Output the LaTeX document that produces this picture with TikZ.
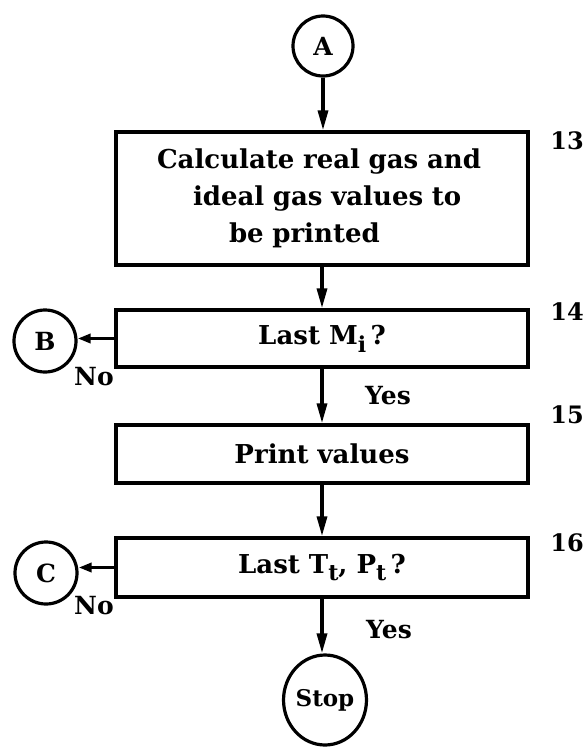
\documentclass[tikz,border=0pt]{standalone}
\usepackage{fontspec}
\setmainfont{DejaVu Serif}
\usetikzlibrary{arrows.meta,shapes.geometric}
\newcommand{\sbs}[1]{\raisebox{-8pt}{\fontsize{22pt}{22pt}\selectfont #1}}
\tikzset{
  box/.style={draw, line width=3.4pt, minimum width=412pt, inner sep=0pt,
              font=\bfseries\fontsize{26pt}{37pt}\selectfont},
  conn/.style={draw, circle, line width=3.2pt, inner sep=0pt, minimum size=60pt,
               font=\bfseries\fontsize{25pt}{25pt}\selectfont},
  flow/.style={line width=3.4pt, -{Triangle[length=20pt,width=10pt]}},
  flowsm/.style={line width=3.4pt, -{Triangle[length=13pt,width=9pt]}},
  num/.style={font=\bfseries\fontsize{24pt}{24pt}\selectfont},
  lbl/.style={font=\bfseries\fontsize{25pt}{25pt}\selectfont},
}
\begin{document}
\begin{tikzpicture}[x=1pt,y=-1pt]
\useasboundingbox (0,0) rectangle (586,747);
\node[conn] (A) at (323,46) {A};
\node[box, minimum height=133pt, text width=330pt, align=left] (b13) at (322,198.5)
  {Calculate real gas and\\\hspace*{36pt}ideal gas values to\\\hspace*{72pt}be printed};
\node[box, minimum height=57pt] (b14) at (322,338.5) {Last M\sbs{i}\,?};
\node[box, minimum height=58pt] (b15) at (322,454) {Print values};
\node[box, minimum height=59pt] (b16) at (322,567.5) {Last T\sbs{t}, P\sbs{t}\,?};
\node[conn, minimum size=62pt] (B) at (45,341) {B};
\node[conn, minimum size=62pt] (C) at (46,573) {C};
\node[draw, ellipse, line width=3.2pt, inner sep=0pt, minimum width=80pt, minimum height=90pt,
      font=\bfseries\fontsize{23pt}{23pt}\selectfont] (stop) at (325,700) {Stop};
\node[num] (n13) at (567,141) {13};
\node[num] (n14) at (567,312) {14};
\node[num] (n15) at (567,415) {15};
\node[num] (n16) at (567,543) {16};
\node[lbl] (no1) at (94,377) {No};
\node[lbl] (no2) at (94,606) {No};
\node[lbl] (yes1) at (388,396) {Yes};
\node[lbl] (yes2) at (389,630) {Yes};
\draw[flow] (A.south) -- (A.south |- b13.north);
\draw[flow] (b13) -- (b14);
\draw[flow] (b14) -- (b15);
\draw[flow] (b15) -- (b16);
\draw[flow] (b16.south) -- (b16.south |- stop.north);
\draw[flowsm] (b14.west) -- (b14.west -| B.east);
\draw[flowsm] (b16.west) -- (b16.west -| C.east);
\end{tikzpicture}
\end{document}
